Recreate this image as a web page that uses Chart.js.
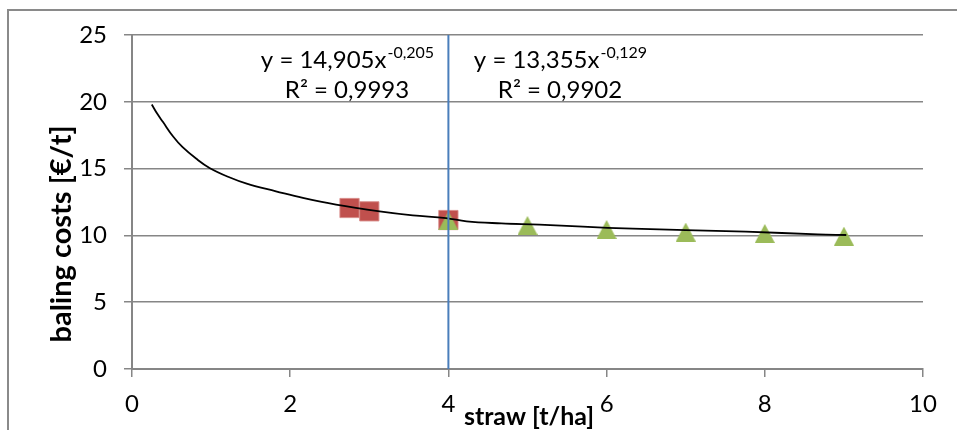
<!DOCTYPE html>
<html>
<head>
<meta charset="utf-8">
<script src="https://cdn.jsdelivr.net/npm/chart.js@4.4.1/dist/chart.umd.min.js"></script>
<style>
  html, body { margin: 0; padding: 0; background: #fff; }
  #wrap { width: 957px; height: 430px; }
</style>
</head>
<body>
<div id="wrap"><canvas id="chart" width="957" height="430"></canvas></div>
<script>
// fitted cost curve
const curveX = [0.25, 0.32, 0.39, 0.52, 0.64, 0.81, 0.98, 1.23, 1.46, 1.82, 2.16, 2.58, 3.13, 3.55, 3.97, 4.23, 4.67, 5.15, 5.7, 6.33, 7.0, 7.76, 8.67, 9.03];
const curveY = [19.8, 19.1, 18.5, 17.4, 16.6, 15.75, 15.05, 14.35, 13.85, 13.3, 12.8, 12.3, 11.8, 11.5, 11.3, 11.05, 10.9, 10.8, 10.65, 10.5, 10.4, 10.28, 10.08, 10.03];

// measured points below 4 t/ha (red squares)
const lowX = [2.75, 3.0, 4.0];
const lowY = [12.05, 11.8, 11.15];

// measured points from 4 t/ha (green triangles)
const highX = [4, 5, 6, 7, 8, 9];
const highY = [11.1, 10.75, 10.45, 10.25, 10.15, 9.95];

// split line at 4 t/ha
const splitX = [4, 4];
const splitY = [0, 25];

const xTicks = [0, 2, 4, 6, 8, 10];
const yTicks = [0, 5, 10, 15, 20, 25];

const eqBase = ['y = 14,905x', 'y = 13,355x'];
const eqExp = ['-0,205', '-0,129'];
const eqR2 = ['R² = 0,9993', 'R² = 0,9902'];

const xTitle = 'straw [t/ha]';
const yTitle = 'baling costs [€/t]';

const FONT = 'Lato, "Open Sans", sans-serif';
const GRID = '#868686';

function pts(xs, ys) {
    return xs.map((x, i) => ({ x: x, y: ys[i] }));
}

// Excel-like triangle marker, centred on its bounding box
function makeTriangle(w, h, color) {
    const c = document.createElement('canvas');
    c.width = w;
    c.height = h;
    const g = c.getContext('2d');
    g.fillStyle = color;
    g.beginPath();
    g.moveTo(w / 2, 0);
    g.lineTo(w, h);
    g.lineTo(0, h);
    g.closePath();
    g.fill();
    return c;
}

const decorations = {
    id: 'decorations',
    beforeDraw(chart) {
        const ctx = chart.ctx;
        ctx.save();
        ctx.fillStyle = '#fff';
        ctx.fillRect(0, 0, chart.width, chart.height);
        ctx.strokeStyle = '#8a8a8a';
        ctx.lineWidth = 2;
        ctx.strokeRect(8, 10, 1200, 1200);
        ctx.restore();
    },
    afterDraw(chart) {
        const ctx = chart.ctx;
        ctx.save();
        ctx.fillStyle = '#000';

        // axis titles
        ctx.textAlign = 'center';
        ctx.textBaseline = 'alphabetic';
        ctx.font = 'bold 25px ' + FONT;
        ctx.fillText(xTitle, 529, 425);

        ctx.save();
        ctx.font = 'bold 29px ' + FONT;
        ctx.translate(71, 234);
        ctx.rotate(-Math.PI / 2);
        ctx.fillText(yTitle, 0, 0);
        ctx.restore();

        // trendline labels
        const centres = [347, 560];
        centres.forEach((cx, i) => {
            ctx.font = '24px ' + FONT;
            const wb = ctx.measureText(eqBase[i]).width;
            ctx.font = '16px ' + FONT;
            const we = ctx.measureText(eqExp[i]).width;
            const left = cx - (wb + we) / 2;
            ctx.textAlign = 'left';
            ctx.font = '24px ' + FONT;
            ctx.fillText(eqBase[i], left, 68);
            ctx.font = '16px ' + FONT;
            ctx.fillText(eqExp[i], left + wb + 1, 58);
            ctx.textAlign = 'center';
            ctx.font = '24px ' + FONT;
            ctx.fillText(eqR2[i], cx, 98);
        });
        ctx.restore();
    }
};

const ctx = document.getElementById('chart');
const chart = new Chart(ctx, {
    type: 'scatter',
    data: {
        datasets: [
            {
                data: pts(splitX, splitY),
                showLine: true,
                borderColor: '#4A7EBB',
                borderWidth: 2,
                pointRadius: 0
            },
            {
                data: pts(curveX, curveY),
                showLine: true,
                borderColor: '#000',
                borderWidth: 1.8,
                pointRadius: 0,
                tension: 0.4
            },
            {
                data: pts(highX, highY),
                pointStyle: makeTriangle(20, 19, '#9BBB59'),
                pointRadius: 10,
                backgroundColor: '#9BBB59',
                borderWidth: 0
            },
            {
                data: pts(lowX, lowY),
                pointStyle: 'rect',
                pointRadius: 13.6,
                backgroundColor: '#C0504D',
                borderColor: 'rgba(215,140,138,0.9)',
                borderWidth: 1
            }
        ]
    },
    options: {
        responsive: false,
        animation: false,
        devicePixelRatio: 1,
        layout: { padding: { top: 35, right: 34, bottom: 0, left: 0 } },
        plugins: {
            legend: { display: false },
            tooltip: { enabled: false }
        },
        scales: {
            x: {
                type: 'linear',
                min: 0,
                max: 10,
                afterBuildTicks: s => { s.ticks = xTicks.map(v => ({ value: v })); },
                afterFit: s => { s.height = 61; },
                ticks: {
                    color: '#000',
                    font: { family: FONT, size: 24 },
                    padding: 13,
                    maxRotation: 0
                },
                grid: {
                    drawOnChartArea: false,
                    drawTicks: true,
                    tickLength: 8,
                    color: GRID,
                    lineWidth: 1.5
                },
                border: { color: GRID, width: 2 }
            },
            y: {
                min: 0,
                max: 25,
                afterBuildTicks: s => { s.ticks = yTicks.map(v => ({ value: v })); },
                afterFit: s => { s.width = 132; },
                ticks: {
                    color: '#000',
                    font: { family: FONT, size: 24 },
                    padding: 17
                },
                grid: {
                    tickLength: 8,
                    color: GRID,
                    lineWidth: 1.5
                },
                border: { color: GRID, width: 2 }
            }
        }
    },
    plugins: [decorations]
});
</script>
</body>
</html>
